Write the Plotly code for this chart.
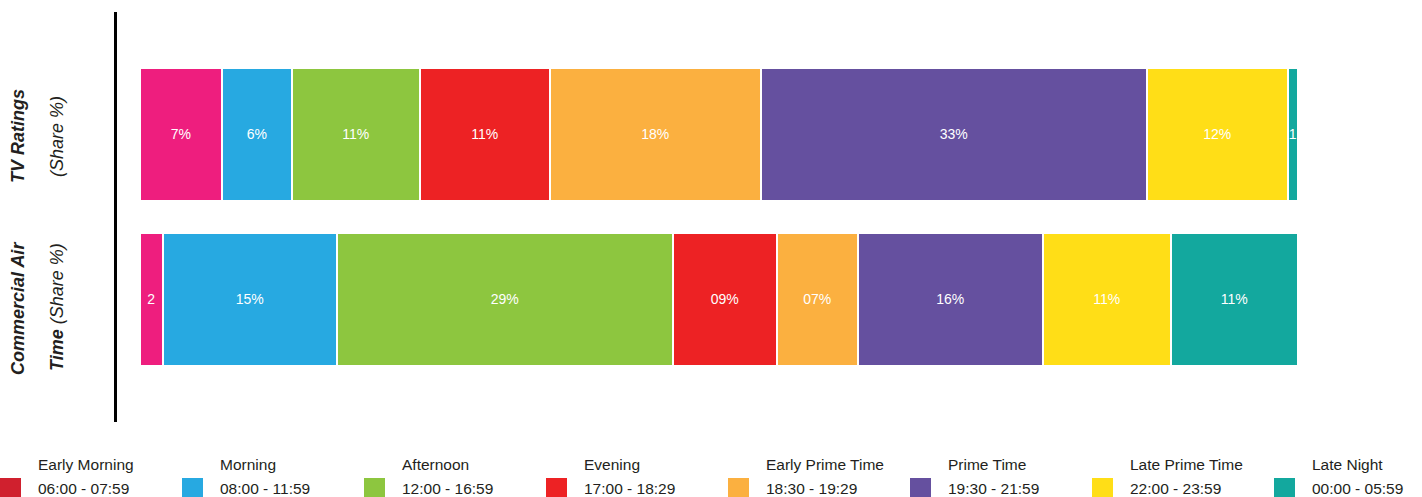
import plotly.graph_objects as go

# Dayparts (legend order) and their time windows
dayparts = ["Early Morning", "Morning", "Afternoon", "Evening",
            "Early Prime Time", "Prime Time", "Late Prime Time", "Late Night"]
time_ranges = ["06:00 - 07:59", "08:00 - 11:59", "12:00 - 16:59", "17:00 - 18:29",
               "18:30 - 19:29", "19:30 - 21:59", "22:00 - 23:59", "00:00 - 05:59"]

# Share % per daypart
tv_ratings = [7.1, 6.0, 11.1, 11.2, 18.2, 33.4, 12.1, 0.9]
air_time = [2, 15, 29, 9, 7, 16, 11, 11]

# Segment labels as printed on the bars
tv_labels = ["7%", "6%", "11%", "11%", "18%", "33%", "12%", "1"]
air_labels = ["2", "15%", "29%", "09%", "07%", "16%", "11%", "11%"]

bar_colors = ["#ee1e7e", "#27a9e1", "#8dc63f", "#ed2224",
              "#fbb040", "#65509f", "#ffde17", "#13a89e"]
legend_colors = ["#d0202e", "#27a9e1", "#8dc63f", "#ed2224",
                 "#fbb040", "#65509f", "#ffde17", "#13a89e"]

W, H = 1422, 497
ML, MR, MT, MB = 117, 102, 12, 75
PW, PH = W - ML - MR, H - MT - MB
FONT = "Liberation Sans, Arial, Helvetica, sans-serif"
TXT = "#231f20"


def px_x(x):
    return (x - ML) / PW


def px_y(y):
    return (H - MB - y) / PH


fig = go.Figure()
for i, name in enumerate(dayparts):
    fig.add_trace(go.Bar(
        orientation="h",
        y=[1, 0],
        x=[tv_ratings[i], air_time[i]],
        text=[tv_labels[i], air_labels[i]],
        name=name,
        width=0.81,
        marker=dict(color=bar_colors[i], line=dict(color="white", width=2.4)),
        textposition="inside",
        insidetextanchor="middle",
        textangle=0,
        insidetextfont=dict(color="white", size=14, family=FONT),
        hoverinfo="skip",
        showlegend=False,
    ))

annotations = []
shapes = []

# Rotated row labels
row_lines = [
    (18, 136, "<b><i>TV Ratings</i></b>"),
    (57, 137, "<i>(Share %)</i>"),
    (18, 309, "<b><i>Commercial Air</i></b>"),
    (57, 307, "<b><i>Time</i></b> <i>(Share %)</i>"),
]
for x, y, t in row_lines:
    annotations.append(dict(
        x=px_x(x), y=px_y(y), xref="paper", yref="paper", text=t,
        textangle=-90, showarrow=False, xanchor="center", yanchor="middle",
        font=dict(size=18, color=TXT, family=FONT),
    ))

# Custom two-line legend along the bottom
for i, (name, tr) in enumerate(zip(dayparts, time_ranges)):
    x0 = i * 182
    shapes.append(dict(
        type="rect", xref="paper", yref="paper",
        x0=px_x(x0), x1=px_x(x0 + 21), y0=px_y(478), y1=px_y(499),
        fillcolor=legend_colors[i], line=dict(width=0), layer="above",
    ))
    annotations.append(dict(
        x=px_x(x0 + 36), y=px_y(464), xref="paper", yref="paper", text=name,
        showarrow=False, xanchor="left", yanchor="middle",
        font=dict(size=15.5, color=TXT, family=FONT),
    ))
    annotations.append(dict(
        x=px_x(x0 + 36), y=px_y(489), xref="paper", yref="paper", text=tr,
        showarrow=False, xanchor="left", yanchor="middle",
        font=dict(size=15.5, color=TXT, family=FONT),
    ))

fig.update_layout(
    width=W, height=H,
    margin=dict(l=ML, r=MR, t=MT, b=MB),
    barmode="stack",
    bargap=0,
    paper_bgcolor="white",
    plot_bgcolor="white",
    uniformtext=dict(minsize=14, mode="show"),
    xaxis=dict(range=[-1.985, 101.9], showgrid=False, zeroline=False,
               showticklabels=False, showline=False, fixedrange=True),
    yaxis=dict(range=[-0.747, 1.747], showgrid=False, zeroline=False,
               showticklabels=False, showline=True, linecolor="black",
               linewidth=2.5, ticks="", fixedrange=True),
    annotations=annotations,
    shapes=shapes,
    showlegend=False,
)

fig.write_html("out.html", config={"displayModeBar": False})
